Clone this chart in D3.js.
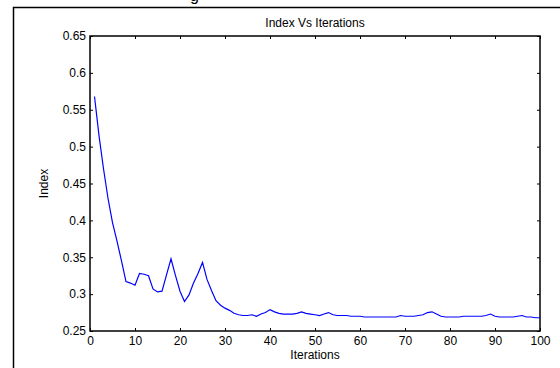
<!DOCTYPE html>
<html>
<head>
<meta charset="utf-8">
<script src="https://cdn.jsdelivr.net/npm/d3@7"></script>
<style>
  body { margin: 0; background: #fff; }
  text { font-family: "Liberation Sans", Arial, sans-serif; }
</style>
</head>
<body>
<script>
// Index per iteration
var iterations = d3.range(1, 101);
var indexValues = [
  0.568, 0.515, 0.470, 0.430, 0.397, 0.372, 0.345, 0.317, 0.315, 0.312,
  0.328, 0.327, 0.325, 0.307, 0.303, 0.304, 0.326, 0.348, 0.325, 0.304,
  0.290, 0.299, 0.315, 0.328, 0.343, 0.320, 0.305, 0.291, 0.285, 0.281,
  0.278, 0.274, 0.272, 0.271, 0.271, 0.272, 0.270, 0.273, 0.275, 0.279,
  0.276, 0.274, 0.273, 0.273, 0.273, 0.274, 0.276, 0.274, 0.273, 0.272,
  0.271, 0.273, 0.275, 0.272, 0.271, 0.271, 0.271, 0.270, 0.270, 0.270,
  0.269, 0.269, 0.269, 0.269, 0.269, 0.269, 0.269, 0.269, 0.271, 0.270,
  0.270, 0.270, 0.271, 0.272, 0.275, 0.276, 0.273, 0.270, 0.269, 0.269,
  0.269, 0.269, 0.270, 0.270, 0.270, 0.270, 0.270, 0.271, 0.273, 0.270,
  0.269, 0.269, 0.269, 0.269, 0.270, 0.271, 0.269, 0.269, 0.268, 0.268
];
var xTicks = [0, 10, 20, 30, 40, 50, 60, 70, 80, 90, 100];
var yTicks = [0.25, 0.3, 0.35, 0.4, 0.45, 0.5, 0.55, 0.6, 0.65];

var w = 560, h = 368;
var padL = 90, padR = 540, padT = 36, padB = 331;

var svg = d3.select("body").append("svg")
  .attr("width", w)
  .attr("height", h);

// outer figure frame (cut by the picture edge)
svg.append("rect")
  .attr("x", 13.5).attr("y", 7.5)
  .attr("width", 600).attr("height", 400)
  .attr("fill", "none").attr("stroke", "#000").attr("stroke-width", 1.5);

// caption fragment above the frame
svg.append("text")
  .attr("x", 190).attr("y", 1)
  .attr("font-size", 16)
  .attr("font-family", "Liberation Serif, serif")
  .text("g");

var x = d3.scaleLinear().domain([0, 100]).range([padL, padR]);
var y = d3.scaleLinear().domain([0.25, 0.65]).range([padB, padT]);

var fmtY = function(d) { return String(+d.toFixed(2)); };

// bottom and left axes, ticks pointing inward
svg.append("g")
  .attr("transform", "translate(0," + padB + ")")
  .call(d3.axisBottom(x).tickValues(xTicks).tickSizeInner(-3).tickSizeOuter(0).tickPadding(5))
  .call(function(g) {
    g.select(".domain").remove();
    g.selectAll("text").attr("font-size", 12).attr("font-family", "Liberation Sans, Arial, sans-serif");
  });

svg.append("g")
  .attr("transform", "translate(" + padL + ",0)")
  .call(d3.axisLeft(y).tickValues(yTicks).tickFormat(fmtY).tickSizeInner(-3).tickSizeOuter(0).tickPadding(4))
  .call(function(g) {
    g.select(".domain").remove();
    g.selectAll("text").attr("font-size", 12).attr("font-family", "Liberation Sans, Arial, sans-serif");
  });

// top and right ticks
svg.append("g")
  .attr("transform", "translate(0," + padT + ")")
  .call(d3.axisTop(x).tickValues(xTicks).tickSizeInner(-3).tickSizeOuter(0).tickFormat(""))
  .call(function(g) { g.select(".domain").remove(); });

svg.append("g")
  .attr("transform", "translate(" + padR + ",0)")
  .call(d3.axisRight(y).tickValues(yTicks).tickSizeInner(-3).tickSizeOuter(0).tickFormat(""))
  .call(function(g) { g.select(".domain").remove(); });

// axes box
svg.append("rect")
  .attr("x", padL).attr("y", padT)
  .attr("width", padR - padL).attr("height", padB - padT)
  .attr("fill", "none").attr("stroke", "#000").attr("stroke-width", 1.5);

// the series
var line = d3.line()
  .x(function(d, i) { return x(iterations[i]); })
  .y(function(d) { return y(d); });

svg.append("path")
  .datum(indexValues)
  .attr("d", line)
  .attr("fill", "none")
  .attr("stroke", "#0000ff")
  .attr("stroke-width", 1.2);

// titles
svg.append("text")
  .attr("x", (padL + padR) / 2).attr("y", 27)
  .attr("text-anchor", "middle").attr("font-size", 12)
  .text("Index Vs Iterations");

svg.append("text")
  .attr("x", (padL + padR) / 2).attr("y", 359)
  .attr("text-anchor", "middle").attr("font-size", 12)
  .text("Iterations");

svg.append("text")
  .attr("transform", "translate(48," + ((padT + padB) / 2) + ") rotate(-90)")
  .attr("text-anchor", "middle").attr("font-size", 12)
  .text("Index");
</script>
</body>
</html>
